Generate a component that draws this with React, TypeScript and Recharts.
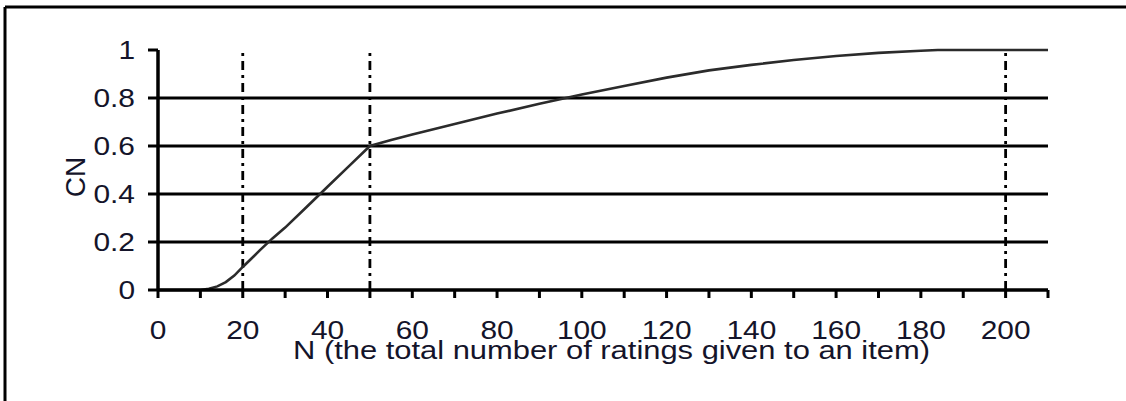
import React from "react";
import { LineChart, Line, XAxis, YAxis, ReferenceLine } from "recharts";

const nValues = [0, 10, 12, 14, 16, 18, 20, 22, 24, 27, 30, 35, 40, 45, 50, 55, 60, 70, 80, 90, 100, 110, 120, 130, 140, 150, 160, 170, 180, 184, 210];
const cnValues = [0, 0, 0.005, 0.015, 0.033, 0.06, 0.096, 0.13, 0.165, 0.215, 0.26, 0.345, 0.43, 0.515, 0.6, 0.625, 0.648, 0.692, 0.735, 0.776, 0.815, 0.85, 0.885, 0.915, 0.938, 0.958, 0.975, 0.988, 0.997, 1, 1];
const xTicks = [0, 10, 20, 30, 40, 50, 60, 70, 80, 90, 100, 110, 120, 130, 140, 150, 160, 170, 180, 190, 200, 210];
const xLabelTicks = [0, 20, 40, 60, 80, 100, 120, 140, 160, 180, 200];
const yTicks = [0, 0.2, 0.4, 0.6, 0.8, 1];
const gridValues = [0.2, 0.4, 0.6, 0.8];
const markerValues = [20, 50, 200];
const xTitle = "N (the total number of ratings given to an item)";
const yTitle = "CN";

const data = nValues.map((n, i) => ({ n, cn: cnValues[i] }));

const FONT = "'Liberation Sans', Arial, sans-serif";
const TEXT_COLOR = "#14142a";

const XTick = (props: any) => {
  const { x, y, payload } = props;
  const v = payload.value;
  if (!xLabelTicks.includes(v)) return null;
  return (
    <text
      transform={`translate(${x}, ${y + 39}) scale(1.15, 1)`}
      textAnchor="middle"
      fontFamily={FONT}
      fontSize={26}
      fill={TEXT_COLOR}
    >
      {String(v)}
    </text>
  );
};

const YTick = (props: any) => {
  const { x, y, payload } = props;
  return (
    <text
      transform={`translate(${x - 11}, ${y + 9}) scale(1.15, 1)`}
      textAnchor="end"
      fontFamily={FONT}
      fontSize={26}
      fill={TEXT_COLOR}
    >
      {String(payload.value)}
    </text>
  );
};

export default function App() {
  return (
    <div style={{ position: "absolute", left: 0, top: 0, width: 1126, height: 401, background: "#fff" }}>
      <LineChart
        width={1126}
        height={401}
        data={data}
        margin={{ top: 50, right: 78, bottom: 81, left: 98 }}
      >
        <XAxis
          dataKey="n"
          type="number"
          domain={[0, 210]}
          ticks={xTicks}
          interval={0}
          height={30}
          tickSize={8}
          axisLine={{ stroke: "#000", strokeWidth: 3.5 }}
          tickLine={{ stroke: "#000", strokeWidth: 3 }}
          tick={<XTick />}
          allowDataOverflow
        />
        <YAxis
          type="number"
          domain={[0, 1]}
          ticks={yTicks}
          interval={0}
          width={60}
          tickSize={10}
          axisLine={{ stroke: "#000", strokeWidth: 3.5 }}
          tickLine={{ stroke: "#000", strokeWidth: 3 }}
          tick={<YTick />}
        />
        {gridValues.map((v) => (
          <ReferenceLine key={"g" + v} y={v} stroke="#000" strokeWidth={3} />
        ))}
        {markerValues.map((v) => (
          <ReferenceLine key={"m" + v} x={v} stroke="#000" strokeWidth={2.8} strokeDasharray="9 5 3 5" />
        ))}
        <Line
          type="linear"
          dataKey="cn"
          stroke="#2b2b2b"
          strokeWidth={2.6}
          dot={false}
          isAnimationActive={false}
        />
      </LineChart>
      <svg
        width={1126}
        height={401}
        style={{ position: "absolute", left: 0, top: 0, pointerEvents: "none" }}
      >
        <line x1={5} y1={7} x2={1126} y2={7} stroke="#000" strokeWidth={3} />
        <line x1={5} y1={7} x2={5} y2={401} stroke="#000" strokeWidth={3} />
        <text
          x={293}
          y={359}
          fontFamily={FONT}
          fontSize={26}
          fill={TEXT_COLOR}
          textLength={637}
          lengthAdjust="spacingAndGlyphs"
        >
          {xTitle}
        </text>
        <text
          transform="translate(85, 177) rotate(-90)"
          textAnchor="middle"
          fontFamily={FONT}
          fontSize={28}
          fill={TEXT_COLOR}
        >
          {yTitle}
        </text>
      </svg>
    </div>
  );
}
